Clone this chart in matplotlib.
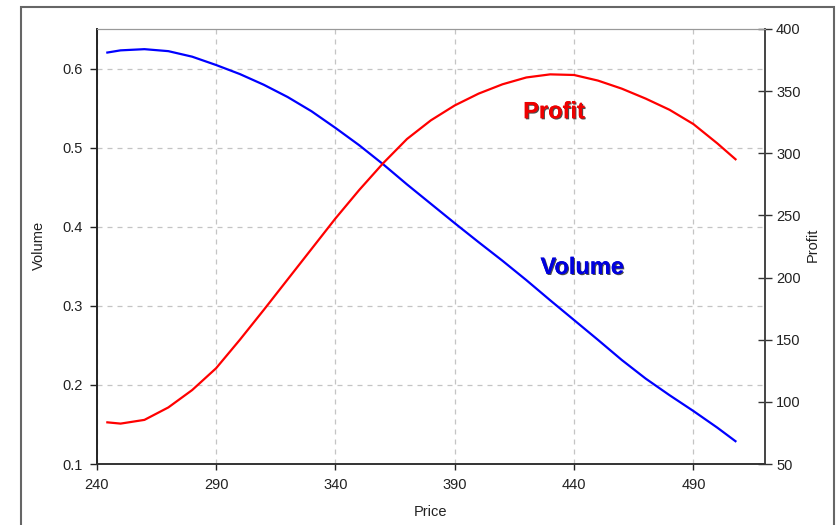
import matplotlib
matplotlib.use("Agg")
import matplotlib.pyplot as plt
import matplotlib.patheffects as pe
from matplotlib.patches import Rectangle

# ---- data ----
price = [244, 250, 260, 270, 280, 290, 300, 310, 320, 330, 340, 350, 360, 370,
         380, 390, 400, 410, 420, 430, 440, 450, 460, 470, 480, 490, 500, 508]
volume = [0.620, 0.623, 0.6245, 0.622, 0.615, 0.6045, 0.593, 0.5795, 0.564, 0.546,
          0.525, 0.503, 0.479, 0.4535, 0.429, 0.4045, 0.3805, 0.357, 0.3325, 0.307,
          0.282, 0.257, 0.2315, 0.208, 0.187, 0.167, 0.146, 0.128]
profit = [83.6, 82.5, 85.5, 95.5, 109.5, 127, 150, 174, 198.5, 223, 247.5, 270.5,
          292, 311.5, 326.5, 338.5, 348, 355.5, 361, 363.5, 363, 358.5, 352, 344,
          335, 323.5, 308, 294.6]
xticks = [240, 290, 340, 390, 440, 490]
vticks = [0.1, 0.2, 0.3, 0.4, 0.5, 0.6]
pticks = [50, 100, 150, 200, 250, 300, 350, 400]

plt.rcParams['font.family'] = ['Liberation Sans', 'DejaVu Sans']
W, H = 838, 525
fig = plt.figure(figsize=(W / 100, H / 100), dpi=100)
fig.patch.set_facecolor('white')

L, R, T, B = 96.7, 765, 29, 464
ax = fig.add_axes([L / W, 1 - B / H, (R - L) / W, (B - T) / H])
ax2 = ax.twinx()

ax.plot(price, volume, color='#0000ff', lw=1.6, solid_capstyle='butt',
        solid_joinstyle='round')
ax2.plot(price, profit, color='#ff0000', lw=1.6, solid_capstyle='butt',
         solid_joinstyle='round')

ax.set_xlim(240, 520)
ax.set_ylim(0.1, 0.65)
ax2.set_ylim(50, 400)
ax.set_xticks(xticks)
ax.set_yticks(vticks)
ax.set_yticklabels([f"{v:.1f}" for v in vticks])
ax2.set_yticks(pticks)

ax.grid(True, color='#c4c4c4', linestyle=(0, (4, 4)), lw=0.9)
ax.set_axisbelow(True)

lab_col = '#222222'
ax.tick_params(axis='x', direction='out', length=4, width=1, colors='#222222',
               labelsize=10.5, pad=6, labelcolor=lab_col)
ax.tick_params(axis='y', direction='out', length=5, width=1, colors='#222222',
               labelsize=10.5, pad=5, labelcolor=lab_col)
ax2.tick_params(axis='y', direction='inout', length=10, width=1, colors='#333333',
                labelsize=10.5, pad=3, labelcolor=lab_col)

for a in (ax, ax2):
    a.spines['top'].set_color('#999999')
    a.spines['left'].set_color('#222222')
    a.spines['bottom'].set_color('#333333')
    a.spines['right'].set_color('#444444')
    a.spines['left'].set_linewidth(1.2)
    a.spines['bottom'].set_linewidth(1.2)
    a.spines['right'].set_linewidth(1.2)

shadow = [pe.withSimplePatchShadow(offset=(0.8, -0.8), shadow_rgbFace='black', alpha=0.7),
          pe.Normal()]
ax.text(431.6, 0.5454, 'Profit', color='#ee0000', fontsize=17, fontweight='bold',
        ha='center', va='center', path_effects=shadow)
ax.text(443.4, 0.3486, 'Volume', color='#0000dd', fontsize=17, fontweight='bold',
        ha='center', va='center', path_effects=shadow)

fig.text(430 / W, 1 - 511.7 / H, 'Price', ha='center', va='center',
         fontsize=10.5, color=lab_col)
fig.text(39 / W, 1 - 245 / H, 'Volume', ha='center', va='center', rotation=90,
         fontsize=10.5, color=lab_col)
fig.text(813 / W, 1 - 245 / H, 'Profit', ha='center', va='center', rotation=90,
         fontsize=10.5, color=lab_col)

fig.add_artist(Rectangle((21 / W, -0.02), (834 - 21) / W, 1 - 7 / H + 0.02,
                         transform=fig.transFigure, fill=False,
                         edgecolor='#666666', lw=1.5))

fig.savefig('out.png', dpi=100, facecolor='white')
